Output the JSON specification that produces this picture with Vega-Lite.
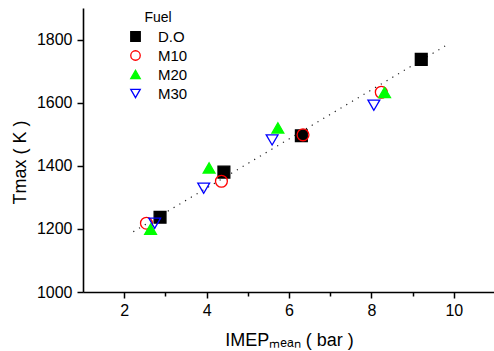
{
  "$schema": "https://vega.github.io/schema/vega-lite/v6.json",
  "width": 412,
  "height": 284,
  "autosize": "none",
  "padding": {"left": 83, "top": 8, "right": 0, "bottom": 59},
  "background": "white",
  "config": {
    "view": {"stroke": null},
    "font": "Liberation Sans",
    "axis": {"grid": false, "domainColor": "black", "domainWidth": 1.6, "tickColor": "black", "tickWidth": 1.5, "labelColor": "black", "titleColor": "black", "labelFont": "Liberation Sans", "titleFont": "Liberation Sans", "labelFontSize": 16, "titleFontSize": 18, "titleFontWeight": "normal"}
  },
  "datasets": {
    "points": [
      {"fuel": "D.O", "imep": 2.87, "tmax": 1237},
      {"fuel": "D.O", "imep": 4.42, "tmax": 1380},
      {"fuel": "D.O", "imep": 6.30, "tmax": 1495},
      {"fuel": "D.O", "imep": 9.21, "tmax": 1737},
      {"fuel": "M10", "imep": 2.54, "tmax": 1218},
      {"fuel": "M10", "imep": 4.36, "tmax": 1351},
      {"fuel": "M10", "imep": 6.34, "tmax": 1498},
      {"fuel": "M10", "imep": 8.24, "tmax": 1633},
      {"fuel": "M20", "imep": 2.64, "tmax": 1199},
      {"fuel": "M20", "imep": 4.06, "tmax": 1393},
      {"fuel": "M20", "imep": 5.73, "tmax": 1520},
      {"fuel": "M20", "imep": 8.32, "tmax": 1632},
      {"fuel": "M30", "imep": 2.74, "tmax": 1218},
      {"fuel": "M30", "imep": 3.93, "tmax": 1329},
      {"fuel": "M30", "imep": 5.59, "tmax": 1482},
      {"fuel": "M30", "imep": 8.06, "tmax": 1592}
    ],
    "fit": [
      {"imep": 2.22, "tmax": 1191},
      {"imep": 9.82, "tmax": 1782}
    ]
  },
  "layer": [
    {
      "data": {"name": "fit"},
      "mark": {"type": "line", "color": "#222", "strokeWidth": 1.2, "strokeDash": [1.2, 5.5]},
      "encoding": {
        "x": {"field": "imep", "type": "quantitative", "scale": {"domain": [1, 11], "nice": false, "zero": false},
          "axis": {"title": "IMEPₘₑₐₙ ( bar )", "values": [2, 3, 4, 5, 6, 7, 8, 9, 10], "format": "d", "labelExpr": "datum.value % 2 == 0 ? datum.label : ''", "tickSize": {"condition": {"test": "datum.value % 2 == 0", "value": 6}, "value": 4}, "labelPadding": 4, "titleY": 53, "titleBaseline": "alphabetic"}},
        "y": {"field": "tmax", "type": "quantitative", "scale": {"domain": [1000, 1900], "nice": false, "zero": false},
          "axis": {"title": "Tmax ( K )", "values": [1000, 1100, 1200, 1300, 1400, 1500, 1600, 1700, 1800, 1900], "format": "d", "labelExpr": "datum.value % 200 == 0 && datum.value < 1900 ? datum.label : ''", "tickSize": {"condition": {"test": "datum.value % 200 == 0", "value": 6}, "value": 4}, "labelPadding": 5, "titleX": -58, "titleY": 154, "titleBaseline": "alphabetic"}}
      }
    },
    {
      "data": {"name": "points"},
      "mark": {"type": "point", "filled": true, "strokeWidth": 1.3, "opacity": 1},
      "encoding": {
        "x": {"field": "imep", "type": "quantitative"},
        "y": {"field": "tmax", "type": "quantitative"},
        "size": {"value": 140},
        "shape": {"field": "fuel", "type": "nominal", "scale": {"domain": ["D.O", "M10", "M20", "M30"], "range": ["square", "circle", "triangle-up", "triangle-down"]}, "title": "Fuel",
          "legend": {"orient": "none", "legendX": 45, "legendY": 3, "titleAnchor": "middle", "titleFont": "Liberation Sans", "titleFontSize": 14, "titleFontWeight": "normal", "titleColor": "black", "titlePadding": 4, "labelFont": "Liberation Sans", "labelFontSize": 15, "labelColor": "black", "labelOffset": 15, "symbolSize": 90, "symbolStrokeWidth": 1.3, "rowPadding": 3, "padding": 0}},
        "fill": {"field": "fuel", "type": "nominal", "scale": {"domain": ["D.O", "M10", "M20", "M30"], "range": ["#000000", "transparent", "#00ff00", "transparent"]}, "title": "Fuel"},
        "stroke": {"field": "fuel", "type": "nominal", "scale": {"domain": ["D.O", "M10", "M20", "M30"], "range": ["#000000", "#ff0000", "#00ff00", "#0000ff"]}, "title": "Fuel"}
      }
    }
  ]
}
